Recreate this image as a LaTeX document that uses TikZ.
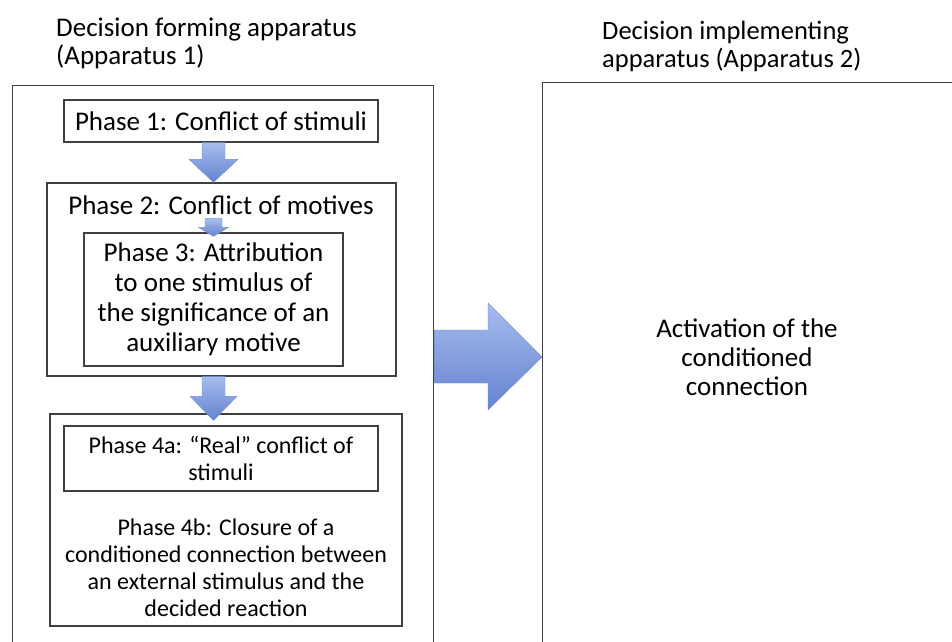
\documentclass[tikz,border=0pt]{standalone}
\usepackage{fontspec}
\setmainfont{Carlito}
\usetikzlibrary{calc}
\definecolor{arrowtop}{HTML}{A7BCEE}
\definecolor{arrowbot}{HTML}{6483CF}
\definecolor{arrowedge}{HTML}{7590D2}
\definecolor{boxline}{HTML}{404040}
\newcommand\downarr[5]{%
  \path[blockarrow] let \p1=(#1), \p2=(#2) in
    (\x1-#3pt,\y1) -- (\x1+#3pt,\y1) -- (\x1+#3pt,\y2+#5pt) -- (\x1+#4pt,\y2+#5pt)
    -- (\x1,\y2) -- (\x1-#4pt,\y2+#5pt) -- (\x1-#3pt,\y2+#5pt) -- cycle;}
\begin{document}
\begin{tikzpicture}[x=1pt,y=-1pt,
  box/.style={draw=boxline, line width=1.3pt, fill=white, inner sep=0pt},
  txt/.style={font=\fontsize{27}{30}\selectfont, align=center, inner sep=0pt},
  smalltxt/.style={txt, font=\fontsize{24}{27}\selectfont},
  blockarrow/.style={top color=arrowtop, bottom color=arrowbot, draw=arrowedge, line width=0.4pt}]
\useasboundingbox (0,0) rectangle (952,641);
\fill[white] (0,0) rectangle (952,641);

% titles
\node[txt, font=\fontsize{27}{28}\selectfont, align=left, anchor=west] (t1) at (56,43) {Decision forming apparatus\\(Apparatus 1)};
\node[txt, font=\fontsize{26.5}{28}\selectfont, align=left, anchor=west] (t2) at (602,46) {Decision implementing\\apparatus (Apparatus 2)};

% outer boxes
\node[box, minimum width=421pt, minimum height=575pt, anchor=north west] (outerL) at (12,85) {};
\node[box, minimum width=418pt, minimum height=578pt, anchor=north west] (outerR) at (542,82) {};
\node[txt, font=\fontsize{27}{29}\selectfont] (act) at (747,357) {Activation of the\\conditioned\\connection};

% phase boxes
\node[box, txt, minimum width=314pt, minimum height=42pt] (p1) at (221,121) {Phase 1: Conflict of stimuli};
\node[box, minimum width=349pt, minimum height=193pt] (p2) at (221.5,279.5) {};
\node[txt] (p2t) at (221,205) {Phase 2: Conflict of motives};
\node[box, txt, minimum width=259pt, minimum height=133pt] (p3) at (213.5,299.5) {Phase 3: Attribution\\to one stimulus of\\the significance of an\\auxiliary motive};
\node[box, minimum width=352pt, minimum height=212pt] (p4) at (226,520) {};
\node[box, smalltxt, minimum width=314pt, minimum height=65pt] (p4a) at (221,458.5) {Phase 4a: “Real” conflict of\\stimuli};
\node[smalltxt] (p4b) at (226,568) {Phase 4b: Closure of a\\conditioned connection between\\an external stimulus and the\\decided reaction};

% down arrows
\coordinate (a2s) at ($(p2t.south -| p3.center)+(0,4)$);
\downarr{p1.south -| p3.center}{p2.north -| p3.center}{11.5}{24.5}{23}
\downarr{a2s}{$(p3.north)+(0,4)$}{8.5}{15}{9}
\downarr{p2.south -| p3.center}{$(p4.north -| p3.center)+(0,7)$}{11.5}{23.5}{24}

% big arrow
\coordinate (bigy) at (0,357);
\path[blockarrow] let \p1=(outerL.east |- bigy), \p2=(outerR.west |- bigy) in
  (\x1,\y1+27pt) -- (\x2-54pt,\y1+27pt) -- (\x2-54pt,\y1+54pt) -- (\x2,\y2)
  -- (\x2-54pt,\y1-53pt) -- (\x2-54pt,\y1-26pt) -- (\x1,\y1-26pt) -- cycle;
\end{tikzpicture}
\end{document}
